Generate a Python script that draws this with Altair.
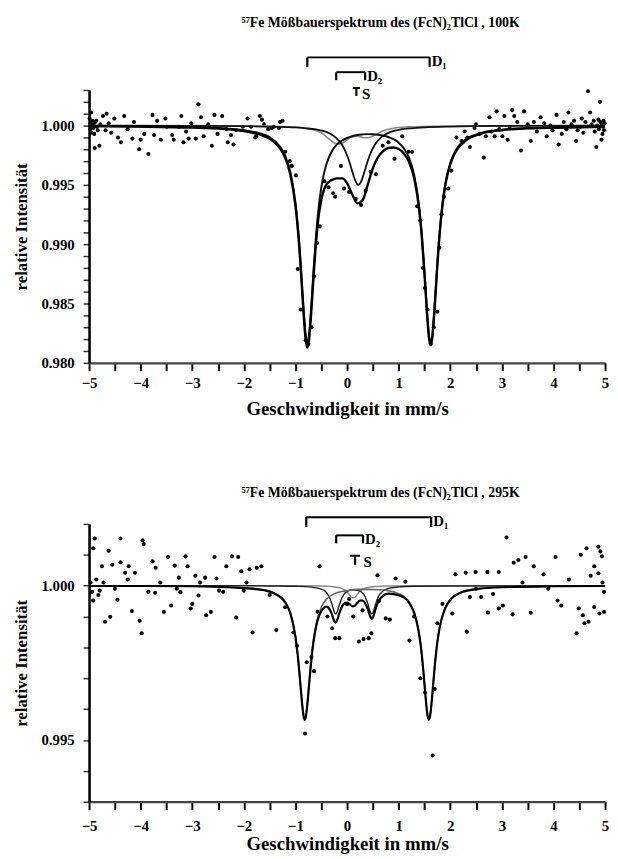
import altair as alt
import pandas as pd

FONT = "Liberation Serif"

# ------------------------------------------------------------------ shared axis values
x_ticks = [-5, -4.5, -4, -3.5, -3, -2.5, -2, -1.5, -1, -0.5, 0, 0.5, 1, 1.5, 2, 2.5, 3, 3.5, 4, 4.5, 5]
x_title = "Geschwindigkeit in mm/s"
y_title = "relative Intensität"

# ------------------------------------------------------------------ 100 K panel
top_title = "⁵⁷Fe Mößbauerspektrum des (FcN)₂TlCl , 100K"
top_y_ticks = [0.980, 0.981, 0.982, 0.983, 0.984, 0.985, 0.986, 0.987, 0.988, 0.989, 0.990,
               0.991, 0.992, 0.993, 0.994, 0.995, 0.996, 0.997, 0.998, 0.999, 1.000, 1.001,
               1.002, 1.003]

top_points = [
    (-4.99, 1.0006), (-4.98, 0.9997), (-4.97, 1.0002), (-4.96, 1.0011), (-4.95, 0.9994),
    (-4.94, 1.0000), (-4.93, 1.0004), (-4.92, 0.9998), (-4.91, 1.0001), (-4.90, 0.9993),
    (-4.89, 0.9981), (-4.88, 1.0003), (-4.86, 1.0004), (-4.85, 0.9999), (-4.83, 0.9996),
    (-4.80, 0.9983), (-4.78, 1.0001), (-4.73, 1.0008), (-4.68, 0.9996), (-4.66, 1.0010),
    (-4.62, 1.0002), (-4.57, 0.9994), (-4.51, 1.0006), (-4.44, 0.9990), (-4.38, 0.9986),
    (-4.32, 1.0008), (-4.25, 0.9997), (-4.16, 0.9989), (-4.13, 1.0003), (-4.03, 0.9980),
    (-4.00, 0.9988), (-3.93, 0.9993), (-3.85, 0.9976), (-3.77, 1.0009), (-3.74, 0.9992),
    (-3.68, 1.0004), (-3.61, 0.9988), (-3.52, 1.0006), (-3.49, 0.9999), (-3.39, 0.9992),
    (-3.36, 0.9988), (-3.26, 0.9999), (-3.21, 1.0008), (-3.17, 0.9986), (-3.12, 0.9995),
    (-3.07, 0.9989), (-3.02, 1.0002), (-2.93, 0.9989), (-2.88, 1.0018), (-2.83, 1.0007),
    (-2.78, 0.9991), (-2.69, 1.0001), (-2.62, 0.9983), (-2.57, 1.0009), (-2.51, 0.9993),
    (-2.42, 1.0008), (-2.34, 0.9997), (-2.31, 0.9986), (-2.25, 0.9992), (-2.20, 0.9984),
    (-2.15, 0.9996), (-2.02, 0.9999), (-1.93, 1.0006), (-1.86, 0.9999), (-1.78, 0.9990),
    (-1.76, 0.9991), (-1.69, 1.0008), (-1.65, 1.0005), (-1.61, 1.0001), (-1.53, 0.9997),
    (-1.46, 0.9998), (-1.42, 0.9999), (-1.32, 0.9998), (-1.30, 1.0003), (-1.25, 1.0004),
    (-1.20, 0.9978), (-1.11, 0.9970), (-1.07, 0.9966), (-0.99, 0.9958), (-0.955, 0.9879),
    (-0.895, 0.9845), (-0.80, 0.9819), (-0.75, 0.9816), (-0.69, 0.9830), (-0.64, 0.9873),
    (-0.58, 0.9901), (-0.53, 0.9915), (-0.44, 0.9953), (-0.36, 0.9948), (-0.27, 0.9943),
    (-0.23, 0.9940), (-0.12, 0.9966), (-0.06, 0.9947), (0.04, 0.9944), (0.17, 0.9938),
    (0.27, 0.9933), (0.36, 0.9945), (0.46, 0.9961), (0.56, 0.9959), (0.69, 0.9983),
    (0.80, 0.9986), (0.92, 0.9972), (1.07, 0.9991), (1.19, 0.9978), (1.26, 0.9978),
    (1.36, 0.9932), (1.42, 0.9920), (1.47, 0.9880), (1.51, 0.9863), (1.56, 0.9845),
    (1.62, 0.9816), (1.68, 0.9830), (1.75, 0.9843), (1.79, 0.9897), (1.83, 0.9925),
    (1.88, 0.9940), (1.96, 0.9947), (2.02, 0.9962), (2.12, 0.9990), (2.22, 0.9987),
    (2.28, 0.9995), (2.33, 0.9990), (2.38, 0.9982), (2.47, 0.9998), (2.50, 1.0001),
    (2.57, 0.9993), (2.65, 0.9973), (2.69, 0.9991), (2.76, 1.0007), (2.80, 0.9995),
    (2.86, 0.9991), (2.90, 1.0012), (2.95, 0.9997), (3.01, 0.9991), (3.05, 1.0008),
    (3.11, 0.9988), (3.15, 0.9998), (3.20, 1.0013), (3.24, 1.0008), (3.30, 1.0003),
    (3.37, 0.9979), (3.43, 1.0012), (3.50, 1.0001), (3.56, 0.9987), (3.62, 1.0003),
    (3.68, 0.9995), (3.75, 1.0007), (3.82, 1.0002), (3.87, 0.9991), (3.94, 1.0000),
    (3.98, 0.9996), (4.06, 1.0009), (4.10, 0.9984), (4.16, 0.9993), (4.20, 1.0003),
    (4.25, 0.9997), (4.29, 1.0011), (4.35, 1.0001), (4.40, 1.0004), (4.44, 0.9987),
    (4.47, 0.9996), (4.52, 0.9999), (4.55, 1.0006), (4.58, 0.9994), (4.62, 1.0003),
    (4.67, 1.0029), (4.71, 1.0011), (4.74, 1.0001), (4.78, 1.0004), (4.80, 0.9995),
    (4.83, 0.9982), (4.85, 1.0000), (4.87, 1.0005), (4.88, 0.9997), (4.90, 1.0020),
    (4.91, 1.0003), (4.93, 0.9988), (4.94, 1.0001), (4.95, 0.9993), (4.96, 0.9999),
    (4.97, 1.0004), (4.98, 0.9996), (4.99, 1.0002),
]

top_fit_x = [-5, -4, -3, -2.5, -2, -1.7, -1.5, -1.3, -1.2, -1.1, -1.0, -0.95, -0.9, -0.85,
             -0.8, -0.77, -0.74, -0.7, -0.65, -0.6, -0.55, -0.5, -0.45, -0.4, -0.3, -0.2,
             -0.1, 0.0, 0.1, 0.2, 0.3, 0.4, 0.5, 0.6, 0.7, 0.8, 0.9, 1.0, 1.1, 1.2, 1.3, 1.4,
             1.45, 1.5, 1.55, 1.59, 1.62, 1.65, 1.7, 1.75, 1.8, 1.85, 1.9, 2.0, 2.1, 2.3, 2.6,
             3.0, 3.5, 4.0, 5.0]
top_sum_y = [0.99995, 0.99991, 0.99983, 0.99975, 0.99954, 0.99925, 0.99889, 0.99808, 0.99728,
             0.99588, 0.99323, 0.99106, 0.98813, 0.98467, 0.98187, 0.98129, 0.98182, 0.98387,
             0.98722, 0.99019, 0.99238, 0.99370, 0.99455, 0.99505, 0.99540, 0.99555, 0.99555,
             0.99515, 0.99420, 0.99344, 0.99370, 0.99500, 0.99640, 0.99734, 0.99785, 0.99811,
             0.99815, 0.99802, 0.99765, 0.99694, 0.99557, 0.99282, 0.99054, 0.98752, 0.98413,
             0.98204, 0.98150, 0.98205, 0.98482, 0.98825, 0.99115, 0.99331, 0.99487, 0.99673,
             0.99776, 0.99874, 0.99932, 0.99961, 0.99976, 0.99982, 0.99990]
top_d1_y = [0.99996, 0.99993, 0.99987, 0.99980, 0.99962, 0.99936, 0.99902, 0.99824, 0.99747,
            0.99611, 0.99350, 0.99135, 0.98845, 0.98502, 0.98227, 0.98172, 0.98227, 0.98436,
            0.98778, 0.99082, 0.99311, 0.99474, 0.99591, 0.99674, 0.99779, 0.99840, 0.99872,
            0.99895, 0.99910, 0.99920, 0.99925, 0.99928, 0.99927, 0.99923, 0.99916, 0.99904,
            0.99885, 0.99856, 0.99808, 0.99729, 0.99586, 0.99307, 0.99077, 0.98773, 0.98432,
            0.98223, 0.98168, 0.98223, 0.98498, 0.98840, 0.99130, 0.99346, 0.99499, 0.99685,
            0.99787, 0.99883, 0.99938, 0.99966, 0.99979, 0.99985, 0.99991]
top_s_x = [-5, -3, -2, -1.5, -1.0, -0.8, -0.6, -0.4, -0.3, -0.2, -0.1, 0.0, 0.05, 0.1, 0.15,
           0.22, 0.29, 0.34, 0.39, 0.44, 0.54, 0.64, 0.74, 0.84, 1.04, 1.24, 1.5, 2.0, 3.0, 5.0]
top_s_y = [0.99999, 0.99997, 0.99995, 0.99990, 0.99984, 0.99977, 0.99967, 0.99947, 0.99924,
           0.99892, 0.99840, 0.99750, 0.99687, 0.99615, 0.99546, 0.99500, 0.99546, 0.99615,
           0.99687, 0.99750, 0.99840, 0.99892, 0.99924, 0.99947, 0.99967, 0.99977, 0.99985,
           0.99992, 0.99997, 0.99999]
top_d2_x = [-5, -3, -2, -1.5, -1.0, -0.7, -0.5, -0.3, -0.2, -0.1, 0.0, 0.1, 0.2, 0.3, 0.4, 0.5,
            0.7, 0.9, 1.2, 1.7, 2.5, 3.5, 5.0]
top_d2_y = [1.0, 0.99999, 0.99997, 0.99995, 0.99987, 0.99970, 0.99940, 0.99870, 0.99845,
            0.99850, 0.99880, 0.99905, 0.99910, 0.99900, 0.99897, 0.99912, 0.99957, 0.99978,
            0.99989, 0.99995, 0.99997, 0.99999, 1.0]

# bracket annotations (data units): D1, D2 doublets and S singlet marker
top_br_x1 = [-0.77, -0.21]
top_br_x2 = [1.60, 0.35]
top_br_y = [1.00575, 1.00450]
top_br_end = [1.00492, 1.00383]
top_t_x1, top_t_x2, top_t_stem, top_t_y, top_t_end = 0.11, 0.25, 0.18, 1.00317, 1.00250
top_lab_text = ["D₁", "D₂", "S"]
top_lab_x = [1.62, 0.37, 0.27]
top_lab_y = [1.00542, 1.00417, 1.00262]
top_title_pos = (0.65, 1.00867)

# ------------------------------------------------------------------ 295 K panel
bot_title = "⁵⁷Fe Mößbauerspektrum des (FcN)₂TlCl , 295K"
bot_y_ticks = [0.993, 0.994, 0.995, 0.996, 0.997, 0.998, 0.999, 1.000, 1.001, 1.002]

bot_points = [
    (-4.97, 1.0001), (-4.94, 0.9998), (-4.92, 0.99952), (-4.92, 1.00121), (-4.89, 1.00153),
    (-4.86, 1.0002), (-4.82, 0.9997), (-4.79, 0.99984), (-4.75, 1.00063), (-4.72, 1.0001),
    (-4.69, 0.99883), (-4.62, 1.00113), (-4.59, 0.99899), (-4.55, 1.00068), (-4.50, 0.9999),
    (-4.45, 0.99954), (-4.39, 1.00153), (-4.39, 1.00076), (-4.30, 1.00042), (-4.25, 1.0002),
    (-4.23, 1.00063), (-4.17, 0.99918), (-4.11, 1.00042), (-4.02, 0.99886), (-3.98, 0.99846),
    (-3.96, 1.00147), (-3.94, 1.00135), (-3.85, 0.9998), (-3.77, 1.00079), (-3.72, 0.99977),
    (-3.71, 1.00058), (-3.62, 1.0001), (-3.55, 0.99915), (-3.47, 1.00093), (-3.41, 0.99936),
    (-3.34, 1.00065), (-3.30, 0.9999), (-3.26, 1.00026), (-3.23, 0.99979), (-3.13, 1.00095),
    (-3.09, 1.00063), (-3.03, 0.99926), (-3.00, 0.99941), (-2.94, 1.00032), (-2.88, 0.99968),
    (-2.85, 1.0001), (-2.75, 1.00026), (-2.73, 0.99904), (-2.64, 0.99915), (-2.57, 1.00093),
    (-2.53, 1.00023), (-2.48, 0.99984), (-2.40, 0.9998), (-2.34, 1.00063), (-2.23, 1.00095),
    (-2.15, 0.99897), (-2.11, 1.00093), (-2.05, 1.00047), (-2.00, 0.99984), (-1.95, 1.0001),
    (-1.89, 1.00053), (-1.83, 0.99848), (-1.75, 1.00058), (-1.66, 1.00063), (-1.50, 0.9997),
    (-1.37, 0.99856), (-1.20, 0.9993), (-1.04, 0.99848), (-0.97, 0.99805), (-0.815, 0.99521),
    (-0.78, 0.99752), (-0.69, 0.99769), (-0.64, 0.99723), (-0.57, 0.99915), (-0.53, 1.00063),
    (-0.38, 0.9990), (-0.29, 0.99862), (-0.23, 0.9983), (-0.15, 0.9983), (0.00, 0.9994),
    (0.04, 0.99957), (0.12, 0.9990), (0.23, 0.99819), (0.30, 0.9992), (0.32, 0.99827),
    (0.42, 0.9983), (0.47, 0.99846), (0.59, 1.00034), (0.62, 0.9995), (0.75, 0.99894),
    (0.83, 0.9989), (0.94, 1.00023), (1.13, 1.00013), (1.21, 0.99822), (1.30, 0.9990),
    (1.42, 0.9970), (1.51, 0.99654), (1.66, 0.9945), (1.70, 0.99665), (1.75, 0.99878),
    (1.85, 0.99941), (2.04, 0.9991), (2.10, 1.00037), (2.30, 1.00042), (2.32, 0.99851),
    (2.38, 0.99963), (2.49, 1.00044), (2.50, 0.9999), (2.60, 0.99963), (2.72, 1.00044),
    (2.73, 0.99913), (2.83, 0.99973), (2.94, 0.99926), (2.94, 1.00044), (3.02, 0.99936),
    (3.09, 1.00156), (3.21, 0.99907), (3.23, 1.00074), (3.32, 1.00083), (3.40, 1.0001),
    (3.46, 1.00093), (3.56, 0.99912), (3.62, 1.00063), (3.81, 1.00037), (3.90, 0.9999),
    (4.04, 1.00093), (4.08, 0.99952), (4.15, 0.99936), (4.30, 1.0002), (4.45, 0.99846),
    (4.49, 0.99926), (4.53, 1.0010), (4.57, 0.99904), (4.60, 0.99878), (4.64, 1.00121),
    (4.68, 0.99883), (4.72, 1.00032), (4.79, 0.99931), (4.79, 1.00063), (4.87, 1.00126),
    (4.87, 1.0004), (4.89, 0.9991), (4.91, 1.00111), (4.94, 1.00095), (4.95, 1.0001),
    (4.98, 0.99915), (4.98, 0.9998),
]

bot_fit_x = [-5, -4, -3, -2, -1.6, -1.4, -1.2, -1.1, -1.0, -0.95, -0.9, -0.87, -0.84, -0.82,
             -0.8, -0.77, -0.74, -0.7, -0.65, -0.6, -0.5, -0.4, -0.35, -0.3, -0.25, -0.22,
             -0.19, -0.15, -0.1, -0.05, 0.0, 0.05, 0.1, 0.15, 0.2, 0.25, 0.3, 0.35, 0.4, 0.45,
             0.48, 0.51, 0.55, 0.6, 0.7, 0.8, 1.0, 1.1, 1.2, 1.3, 1.38, 1.43, 1.48, 1.52, 1.56,
             1.585, 1.61, 1.65, 1.69, 1.75, 1.8, 1.9, 2.0, 2.2, 2.5, 3.0, 4.0, 5.0]
bot_sum_y = [0.99999, 0.99999, 0.99998, 0.99992, 0.99985, 0.99974, 0.99946, 0.99911, 0.99834,
             0.99765, 0.99672, 0.99615, 0.99575, 0.99565, 0.99574, 0.99614, 0.99671, 0.99746,
             0.99819, 0.99867, 0.99917, 0.99932, 0.99926, 0.99910, 0.99886, 0.99880, 0.99889,
             0.99910, 0.99932, 0.99943, 0.99945, 0.99940, 0.99933, 0.99935, 0.99945, 0.99952,
             0.99952, 0.99943, 0.99925, 0.99900, 0.99892, 0.99900, 0.99923, 0.99946, 0.99968,
             0.99974, 0.99969, 0.99962, 0.99945, 0.99912, 0.99859, 0.99803, 0.99721, 0.99642,
             0.99579, 0.99566, 0.99579, 0.99642, 0.99721, 0.99817, 0.99869, 0.99926, 0.99954,
             0.99977, 0.99989, 0.99995, 0.99998, 0.99999]
bot_d1_x = [-5, -4, -3, -2, -1.6, -1.4, -1.2, -1.1, -1.0, -0.95, -0.9, -0.87, -0.84, -0.82,
            -0.8, -0.77, -0.74, -0.7, -0.65, -0.6, -0.5, -0.4, -0.3, -0.2, -0.1, 0.0, 0.2,
            0.4, 0.6, 0.8, 1.0, 1.1, 1.2, 1.3, 1.38, 1.43, 1.48, 1.52, 1.56, 1.585, 1.61,
            1.65, 1.69, 1.75, 1.8, 1.9, 2.0, 2.2, 2.5, 3.0, 4.0, 5.0]
bot_d1_y = [0.99999, 0.99999, 0.99998, 0.99993, 0.99986, 0.99975, 0.99948, 0.99913, 0.99837,
            0.99768, 0.99675, 0.99618, 0.99578, 0.99569, 0.99578, 0.99618, 0.99675, 0.99751,
            0.99825, 0.99875, 0.99930, 0.99956, 0.99969, 0.99977, 0.99981, 0.99984, 0.99988,
            0.99988, 0.99987, 0.99984, 0.99974, 0.99965, 0.99948, 0.99914, 0.99861, 0.99805,
            0.99723, 0.99644, 0.99581, 0.99568, 0.99581, 0.99644, 0.99723, 0.99818, 0.99870,
            0.99927, 0.99955, 0.99978, 0.99989, 0.99995, 0.99998, 0.99999]
bot_d2_x = [-5, -2, -1.5, -1.0, -0.8, -0.6, -0.5, -0.4, -0.35, -0.3, -0.25, -0.22, -0.19,
            -0.15, -0.1, -0.05, 0.0, 0.05, 0.1, 0.15, 0.2, 0.25, 0.3, 0.35, 0.4, 0.45, 0.48,
            0.51, 0.55, 0.6, 0.7, 0.8, 1.0, 1.3, 2.0, 5.0]
bot_d2_y = [1.0, 1.0, 0.99999, 0.99998, 0.99997, 0.99993, 0.99989, 0.99978, 0.99965, 0.99944,
            0.99916, 0.99908, 0.99916, 0.99937, 0.99960, 0.99974, 0.99981, 0.99985, 0.99986,
            0.99986, 0.99985, 0.99982, 0.99976, 0.99964, 0.99943, 0.99915, 0.99908, 0.99916,
            0.99938, 0.99962, 0.99983, 0.99991, 0.99996, 0.99998, 0.99999, 1.0]
bot_s_x = [-5, -1.0, -0.5, -0.3, -0.15, -0.05, 0.0, 0.05, 0.1, 0.12, 0.15, 0.2, 0.25, 0.3,
           0.4, 0.55, 0.8, 1.3, 5.0]
bot_s_y = [1.0, 1.0, 0.99999, 0.99997, 0.99993, 0.99987, 0.99980, 0.99970, 0.99961, 0.99960,
           0.99962, 0.99972, 0.99982, 0.99988, 0.99994, 0.99997, 0.99999, 1.0, 1.0]

bot_br_x1 = [-0.79, -0.21]
bot_br_x2 = [1.63, 0.31]
bot_br_y = [1.00222, 1.00163]
bot_br_end = [1.00190, 1.00137]
bot_t_x1, bot_t_x2, bot_t_stem, bot_t_y, bot_t_end = 0.06, 0.25, 0.155, 1.00097, 1.00068
bot_lab_text = ["D₁", "D₂", "S"]
bot_lab_x = [1.65, 0.33, 0.30]
bot_lab_y = [1.00209, 1.00150, 1.00075]
bot_title_pos = (0.65, 1.0030)


def panel(title, title_pos, points, curves, y_domain, y_ticks, height,
          br, tee, labels, lab_pad, tit_pad):
    xs = alt.Scale(domain=[-5, 5], nice=False, zero=False)
    ys = alt.Scale(domain=y_domain, nice=False, zero=False)
    x_axis = alt.Axis(
        values=x_ticks, labelExpr="datum.value % 1 == 0 ? format(datum.value, 'd') : ''",
        title=x_title, grid=False, tickSize=8, tickWidth=2, tickColor="black",
        domainColor="#444", domainWidth=2.2, labelFont=FONT, labelFontWeight="bold",
        labelFontSize=15, labelColor="black", labelPadding=lab_pad, labelFlush=False,
        labelOverlap=False, titleFont=FONT, titleFontSize=19, titleFontWeight="bold",
        titleColor="black", titlePadding=tit_pad)
    y_axis = alt.Axis(
        values=y_ticks,
        labelExpr="round(datum.value * 1000) % 5 == 0 ? format(datum.value, '.3f') : ''",
        title=y_title, grid=False, tickSize=6, tickWidth=1.5, tickColor="#333",
        domainColor="black", domainWidth=2.6, labelFont=FONT, labelFontWeight="bold",
        labelFontSize=15, labelColor="black", labelPadding=9, labelFlush=False,
        labelOverlap=False, titleFont=FONT, titleFontSize=17, titleFontWeight="bold",
        titleColor="black", titlePadding=11)
    X = alt.X("x:Q", scale=xs, axis=x_axis)
    Y = alt.Y("y:Q", scale=ys, axis=y_axis)

    pts = pd.DataFrame(points, columns=["x", "y"])
    layers = [alt.Chart(pts).mark_circle(size=17, color="black", opacity=1).encode(x=X, y=Y)]
    for cx, cy, color, width in curves:
        df = pd.DataFrame({"x": cx, "y": cy})
        layers.append(alt.Chart(df).mark_line(color=color, strokeWidth=width,
                                              interpolate="monotone").encode(x=X, y=Y))

    x1, x2, yl, yend = br
    tx1, tx2, tstem, ty, tend = tee
    hor = pd.DataFrame({"x": x1 + [tx1], "x2": x2 + [tx2], "y": yl + [ty]})
    ver = pd.DataFrame({"x": x1 + x2 + [tstem],
                        "y": yl + yl + [ty],
                        "y2": yend + yend + [tend]})
    layers.append(alt.Chart(hor).mark_rule(color="black", strokeWidth=2).encode(
        x=X, x2=alt.X2("x2:Q"), y=Y))
    layers.append(alt.Chart(ver).mark_rule(color="black", strokeWidth=2.2).encode(
        x=X, y=Y, y2=alt.Y2("y2:Q")))

    lt, lx, ly = labels
    lab = pd.DataFrame({"x": lx, "y": ly, "t": lt})
    layers.append(alt.Chart(lab).mark_text(font=FONT, fontWeight="bold", fontSize=15,
                                           align="left", baseline="middle", dx=1,
                                           color="black").encode(x=X, y=Y, text="t:N"))
    tdf = pd.DataFrame({"x": [title_pos[0]], "y": [title_pos[1]], "t": [title]})
    layers.append(alt.Chart(tdf).mark_text(font=FONT, fontWeight="bold", fontSize=14,
                                           align="center", baseline="middle",
                                           color="black").encode(x=X, y=Y, text="t:N"))
    return alt.layer(*layers).properties(width=522, height=height)


top = panel(top_title, top_title_pos, top_points,
            [(top_d2_x, top_d2_y, "#8a8a8a", 1.6),
             (top_s_x, top_s_y, "#111111", 1.8),
             (top_fit_x, top_d1_y, "#111111", 2.0),
             (top_fit_x, top_sum_y, "black", 2.4)],
            [0.980, 1.003], top_y_ticks, 276,
            (top_br_x1, top_br_x2, top_br_y, top_br_end),
            (top_t_x1, top_t_x2, top_t_stem, top_t_y, top_t_end),
            (top_lab_text, top_lab_x, top_lab_y), 5, 9)

bottom = panel(bot_title, bot_title_pos, bot_points,
               [(bot_s_x, bot_s_y, "#8a8a8a", 1.5),
                (bot_d2_x, bot_d2_y, "#222222", 1.4),
                (bot_d1_x, bot_d1_y, "#666666", 1.6),
                (bot_fit_x, bot_sum_y, "black", 2.2)],
               [0.993, 1.002], bot_y_ticks, 281,
               (bot_br_x1, bot_br_x2, bot_br_y, bot_br_end),
               (bot_t_x1, bot_t_x2, bot_t_stem, bot_t_y, bot_t_end),
               (bot_lab_text, bot_lab_x, bot_lab_y), 9, 1)

chart = alt.vconcat(top, bottom, spacing=68).properties(
    padding={"left": 4, "top": 2, "right": 0, "bottom": 0},
    background="white",
).configure_view(stroke=None)

chart.save("out.html", embed_options={"renderer": "svg", "actions": False})
